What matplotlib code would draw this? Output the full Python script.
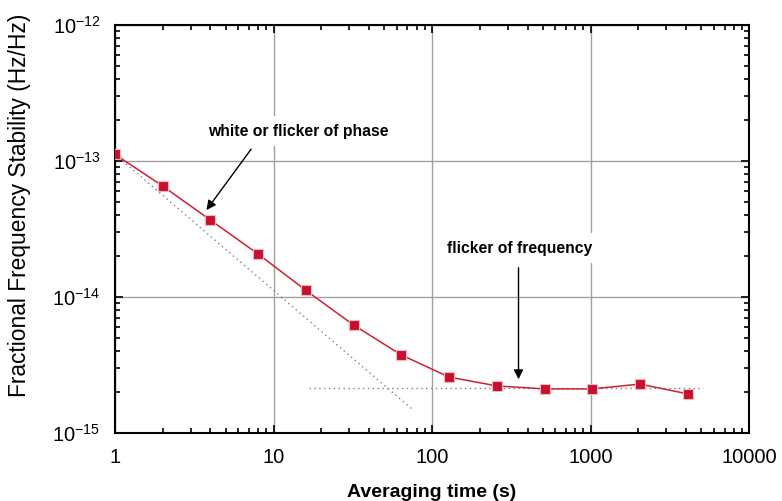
import numpy as np
import matplotlib.pyplot as plt
from matplotlib.ticker import LogLocator, NullFormatter

plt.rcParams['font.family'] = ['Liberation Sans', 'DejaVu Sans']
plt.rcParams['mathtext.fontset'] = 'custom'
plt.rcParams['mathtext.rm'] = 'Liberation Sans'

# Measured Allan deviation
tau = [1, 2, 4, 8, 16, 32, 64, 128, 256, 512, 1024, 2048, 4096]
adev = [1.12e-13, 6.55e-14, 3.68e-14, 2.07e-14, 1.12e-14, 6.22e-15, 3.75e-15,
        2.58e-15, 2.22e-15, 2.11e-15, 2.11e-15, 2.29e-15, 1.94e-15]

# Guide lines
white_tau = [1, 75]
white_adev = [1.12e-13, 1.12e-13 / 75]
flicker_tau = [16.7, 5150]
flicker_adev = [2.14e-15, 2.14e-15]

fig = plt.figure(figsize=(7.82, 5.01), dpi=100)
ax = fig.add_axes([0.147, 0.1357, 0.811, 0.8143])

ax.plot(white_tau, white_adev, linestyle=(0, (1, 2.5)), color='#808080', linewidth=1.0, zorder=2)
ax.plot(flicker_tau, flicker_adev, linestyle=(0, (1, 2.5)), color='#808080', linewidth=1.0, zorder=2)
ax.plot(tau, adev, color='#d02030', linewidth=1.1, marker='s', markersize=7.5,
        markerfacecolor='#c8102e', markeredgecolor='#f4b8c0', markeredgewidth=0.8, zorder=3)

ax.set_xscale('log')
ax.set_yscale('log')
ax.set_xlim(1, 10000)
ax.set_ylim(1e-15, 1e-12)

ax.grid(True, which='major', color='#a0a0a0', linewidth=1.0, zorder=0)
ax.set_axisbelow(True)

for s in ax.spines.values():
    s.set_linewidth(1.5)
ax.tick_params(which='both', direction='in', top=True, right=True, width=1.2)
ax.tick_params(which='major', length=6, labelsize=14.5)
ax.tick_params(axis='x', which='major', pad=11)
ax.tick_params(axis='y', which='major', pad=10.5)
ax.tick_params(which='minor', length=3.5)
ax.xaxis.set_minor_locator(LogLocator(base=10, subs=np.arange(2, 10), numticks=20))
ax.yaxis.set_minor_locator(LogLocator(base=10, subs=np.arange(2, 10), numticks=20))
ax.xaxis.set_minor_formatter(NullFormatter())
ax.yaxis.set_minor_formatter(NullFormatter())
ax.set_xticks([1, 10, 100, 1000, 10000])
ax.set_xticklabels(['1', '10', '100', '1000', '10000'])
ax.set_yticks([1e-15, 1e-14, 1e-13, 1e-12])
ax.set_yticklabels(['$10^{-15}$', '$10^{-14}$', '$10^{-13}$', '$10^{-12}$'])

ax.set_xlabel('Averaging time (s)', fontsize=14, fontweight='bold', labelpad=12)
ax.set_ylabel('Fractional Frequency Stability (Hz/Hz)', fontsize=16.4)
ax.yaxis.set_label_coords(-0.132, 0.559)

box = dict(boxstyle='square,pad=0.5', facecolor='white', edgecolor='none')
ax.text(14.4, 1.66e-13, 'white or flicker of phase', fontsize=11.3, fontweight='bold',
        ha='center', va='center', bbox=box, zorder=4)
ax.annotate('', xy=(3.69, 4.2e-14), xytext=(7.4, 1.27e-13),
            arrowprops=dict(arrowstyle='-|>', color='black', lw=1.0, mutation_scale=14), zorder=4)
ax.text(356, 2.29e-14, 'flicker of frequency', fontsize=11.3, fontweight='bold',
        ha='center', va='center', bbox=box, zorder=4)
ax.annotate('', xy=(351, 2.37e-15), xytext=(351, 1.72e-14),
            arrowprops=dict(arrowstyle='-|>', color='black', lw=1.0, mutation_scale=14), zorder=4)

fig.savefig('out.png', dpi=100)
